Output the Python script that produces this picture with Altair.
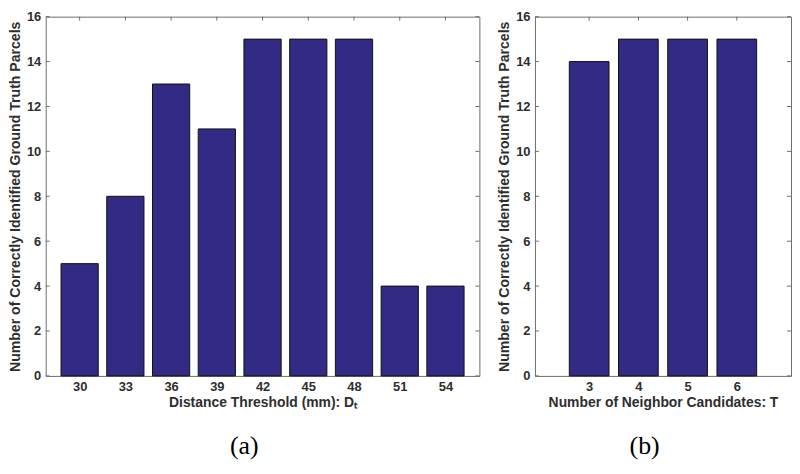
import altair as alt
import pandas as pd

# ---- data ----
dist_thresholds = [30, 33, 36, 39, 42, 45, 48, 51, 54]
dist_counts = [5, 8, 13, 11, 15, 15, 15, 4, 4]
neighbor_T = [3, 4, 5, 6]
neighbor_counts = [14, 15, 15, 15]
y_ticks = [0, 2, 4, 6, 8, 10, 12, 14, 16]

y_title = "Number of Correctly Identified Ground Truth Parcels"
xa_title = "Distance Threshold (mm): D\u209c"
xb_title = "Number of Neighbor Candidates: T"

BAR = "#332a85"
FRAME = "#6e6e6e"
TXT = "#2e2e2e"
H = 362
TICK = 4


def panel(xs, ys, domain, width, bar_w, xtitle, caption):
    df = pd.DataFrame({"x": xs, "y": ys})
    tdf = pd.DataFrame({"x": xs})
    ydf = pd.DataFrame({"v": y_ticks})
    xscale = alt.Scale(domain=domain, nice=False, zero=False)
    yscale = alt.Scale(domain=[0, 16], nice=False)
    xaxis = alt.Axis(values=xs, title=xtitle, grid=False, ticks=False, domain=False,
                     labelPadding=5, titlePadding=2, format="d", titleFontSize=14)
    yaxis = alt.Axis(values=y_ticks, title=y_title, grid=False, ticks=False, domain=False,
                     labelPadding=5, titlePadding=4, titleFontSize=14.2)

    bars = alt.Chart(df).mark_bar(size=bar_w, color=BAR, stroke="#111111", strokeWidth=1).encode(
        x=alt.X("x:Q", scale=xscale, axis=xaxis),
        y=alt.Y("y:Q", scale=yscale, axis=yaxis),
    )
    top_ticks = alt.Chart(tdf).mark_rule(color=FRAME, strokeWidth=1).encode(
        x=alt.X("x:Q", scale=xscale), y=alt.value(0), y2=alt.value(TICK))
    bot_ticks = alt.Chart(tdf).mark_rule(color=FRAME, strokeWidth=1).encode(
        x=alt.X("x:Q", scale=xscale), y=alt.value(H - TICK), y2=alt.value(H))
    left_ticks = alt.Chart(ydf).mark_rule(color=FRAME, strokeWidth=1).encode(
        y=alt.Y("v:Q", scale=yscale), x=alt.value(0), x2=alt.value(TICK))
    right_ticks = alt.Chart(ydf).mark_rule(color=FRAME, strokeWidth=1).encode(
        y=alt.Y("v:Q", scale=yscale), x=alt.value(width - TICK), x2=alt.value(width))

    return alt.layer(bot_ticks, bars, top_ticks, left_ticks, right_ticks).properties(
        width=width, height=H,
        title=alt.TitleParams(caption, orient="bottom", anchor="middle", frame="bounds",
                              font="Liberation Serif", fontSize=26, fontWeight="normal",
                              color="black", offset=24),
    )


left = panel(dist_thresholds, dist_counts, [28.1, 55.9], 437, 37.5, xa_title, "(a)")
right = panel(neighbor_T, neighbor_counts, [2, 7], 258, 40, xb_title, "(b)")

chart = alt.hconcat(left, right, spacing=17).properties(padding=0).configure_view(
    stroke=FRAME, strokeWidth=1
).configure_axis(
    labelFont="Liberation Sans", labelFontWeight="bold", labelFontSize=13, labelColor=TXT,
    titleFont="Liberation Sans", titleFontWeight="bold", titleFontSize=13, titleColor=TXT,
)

chart.save("out.html", embed_options={"renderer": "svg", "actions": False})
